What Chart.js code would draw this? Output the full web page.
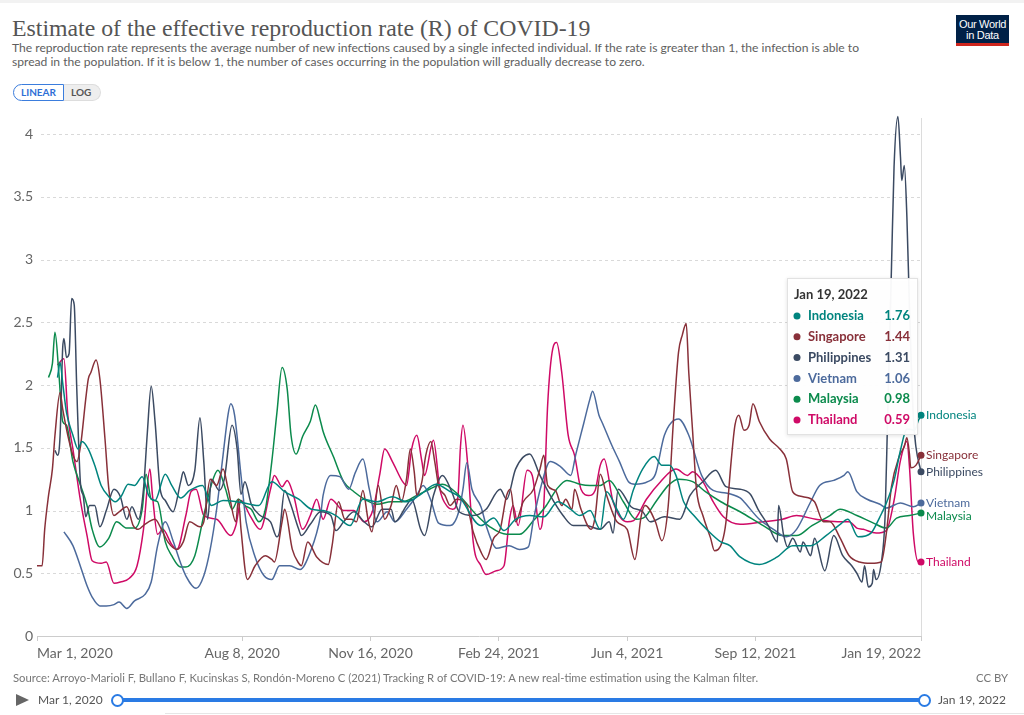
<!DOCTYPE html>
<html>
<head>
<meta charset="utf-8">
<script src="https://cdn.jsdelivr.net/npm/chart.js@4.4.0/dist/chart.umd.min.js"></script>
<style>
html,body{margin:0;padding:0;background:#fff;}
body{width:1024px;height:715px;position:relative;overflow:hidden;font-family:Lato,"Noto Sans",sans-serif;}
#topline{position:absolute;left:0;top:0;width:1024px;height:3px;background:#f2f2f2;}
#title{position:absolute;left:12px;top:13px;font-family:"Liberation Serif","DejaVu Serif",serif;font-size:23.8px;line-height:30px;color:#555;white-space:nowrap;}
#subtitle{position:absolute;left:12px;top:41px;font-size:12.1px;line-height:14px;color:#5e5e5e;white-space:nowrap;}
#toggle{position:absolute;left:13px;top:84px;height:17px;display:flex;font-size:10px;font-weight:bold;}
#toggle .lin{border:1px solid #3b7ddd;border-radius:9px 0 0 9px;color:#2f6fd6;padding:0 7px;line-height:15px;background:#fff;}
#toggle .log{border:1px solid #ddd;border-left:none;border-radius:0 9px 9px 0;color:#555;padding:0 9px 0 7px;line-height:15px;background:#eee;}
#logo{position:absolute;left:956px;top:15px;width:53px;height:31px;background:#002147;color:#fff;font-family:"Liberation Sans",Arial,sans-serif;font-size:11px;line-height:11px;text-align:center;letter-spacing:-0.3px;}
#logo .t{padding-top:4px;}
#logo .bar{position:absolute;left:0;bottom:0;width:53px;height:3px;background:#ce261e;}
#source{position:absolute;left:13px;top:671px;font-size:11.3px;line-height:14px;color:#777;white-space:nowrap;}
#ccby{position:absolute;right:16px;top:671px;font-size:11.3px;line-height:14px;color:#777;}
#play{position:absolute;left:16px;top:694px;width:0;height:0;border-left:13px solid #666;border-top:6.5px solid transparent;border-bottom:6.5px solid transparent;}
#tl1{position:absolute;left:38px;top:693px;font-size:12px;line-height:14px;color:#555;}
#tl2{position:absolute;right:18px;top:693px;font-size:12px;line-height:14px;color:#555;}
#track{position:absolute;left:117px;top:698px;width:808px;height:4px;background:#2a7be4;border-radius:2px;}
.knob{position:absolute;top:694px;width:9px;height:9px;border:2px solid #2a7be4;border-radius:50%;background:#fff;}
#bottomline{position:absolute;left:165px;top:713px;width:859px;height:1px;background:#e6e6e6;}
canvas{position:absolute;left:0;top:0;}
</style>
</head>
<body>
<div id="topline"></div>
<div id="title">Estimate of the effective reproduction rate (R) of COVID-19</div>
<div id="subtitle">The reproduction rate represents the average number of new infections caused by a single infected individual. If the rate is greater than 1, the infection is able to<br>spread in the population. If it is below 1, the number of cases occurring in the population will gradually decrease to zero.</div>
<div id="toggle"><div class="lin">LINEAR</div><div class="log">LOG</div></div>
<div id="logo"><div class="t">Our World<br>in Data</div><div class="bar"></div></div>
<canvas id="c" width="1024" height="715"></canvas>
<div id="source">Source: Arroyo-Marioli F, Bullano F, Kucinskas S, Rondón-Moreno C (2021) Tracking R of COVID-19: A new real-time estimation using the Kalman filter.</div>
<div id="ccby">CC BY</div>
<div id="play"></div>
<div id="tl1">Mar 1, 2020</div>
<div id="track"></div>
<div class="knob" style="left:111px"></div>
<div class="knob" style="left:918px"></div>
<div id="tl2">Jan 19, 2022</div>
<div id="bottomline"></div>
<script>
// Days since Mar 1, 2020 -> estimated R
const tickDays = [0, 160, 260, 360, 460, 560, 689];
const tickLabels = ['Mar 1, 2020', 'Aug 8, 2020', 'Nov 16, 2020', 'Feb 24, 2021', 'Jun 4, 2021', 'Sep 12, 2021', 'Jan 19, 2022'];
const yTicks = [0, 0.5, 1, 1.5, 2, 2.5, 3, 3.5, 4];
const hoverDay = 689;
const hoverLabel = 'Jan 19, 2022';

const indonesia = [[16,2.06],[18,2.18],[20,2.02],[23,1.78],[28,1.60],[32,1.49],[35,1.55],[40,1.49],[45,1.36],[50,1.20],[56,1.11],[61,1.07],[66,1.12],[71,1.21],[76,1.20],[82,1.27],[87,1.12],[92,1.08],[100,1.29],[105,1.20],[112,1.10],[119,1.16],[129,1.20],[136,1.04],[145,1.08],[156,1.07],[166,1.05],[173,1.04],[183,1.23],[193,1.15],[204,1.09],[214,1.01],[223,1.00],[233,0.96],[244,0.88],[254,1.09],[265,1.07],[277,1.11],[288,1.07],[298,1.12],[311,1.21],[322,1.15],[329,1.11],[346,0.88],[356,0.94],[364,0.84],[373,0.93],[384,0.96],[395,0.95],[406,1.07],[416,1.01],[423,0.96],[431,1.00],[439,0.85],[444,1.15],[452,1.01],[457,0.93],[465,1.17],[472,1.33],[481,1.43],[487,1.36],[493,1.36],[498,1.28],[504,1.07],[512,0.96],[522,0.85],[533,0.75],[540,0.72],[548,0.63],[563,0.57],[577,0.63],[589,0.72],[603,0.72],[615,0.80],[626,0.89],[632,0.93],[640,0.79],[650,0.82],[657,0.95],[662,1.06],[668,1.24],[673,1.48],[678,1.65],[684,1.64],[687,1.72],[689,1.76]];

const singapore = [[0,0.56],[4,0.56],[6,0.85],[9,1.12],[12,1.33],[14,1.60],[18,1.94],[20,1.81],[24,1.60],[28,1.44],[31,1.39],[34,1.52],[38,1.89],[40,2.05],[42,2.10],[46,2.20],[49,2.05],[53,1.57],[56,1.17],[60,0.96],[64,0.99],[70,1.03],[75,0.88],[79,0.85],[84,0.89],[92,0.93],[97,0.85],[102,0.75],[109,0.69],[114,0.75],[119,0.91],[127,0.87],[130,0.91],[135,1.25],[140,1.20],[145,1.33],[149,1.17],[155,0.91],[157,1.09],[159,0.85],[164,0.45],[170,0.56],[178,0.64],[183,0.61],[185,0.59],[191,0.91],[193,1.01],[199,0.69],[204,0.58],[206,0.56],[211,0.75],[218,0.63],[227,0.57],[230,0.72],[235,1.07],[240,0.93],[245,0.93],[249,0.91],[254,1.16],[258,0.93],[261,0.83],[266,1.20],[271,0.93],[276,1.04],[280,1.20],[284,1.07],[288,1.25],[291,1.49],[294,1.31],[296,1.12],[300,1.23],[303,1.44],[307,1.55],[310,1.39],[313,1.20],[318,1.12],[322,1.04],[327,1.09],[335,1.04],[340,0.83],[346,0.67],[350,0.61],[356,0.78],[361,0.85],[366,1.12],[369,1.17],[373,0.91],[379,1.07],[387,1.17],[392,1.33],[395,1.44],[398,1.20],[404,1.16],[409,1.04],[412,1.09],[417,1.01],[419,1.17],[424,1.01],[432,0.85],[435,0.95],[439,1.29],[444,1.12],[452,0.91],[460,0.85],[466,0.61],[471,0.96],[474,1.04],[482,0.91],[487,0.76],[492,1.04],[496,1.71],[500,2.26],[503,2.40],[506,2.49],[508,2.10],[511,1.63],[514,1.17],[519,0.96],[525,0.78],[528,0.68],[534,0.75],[537,0.91],[541,1.39],[544,1.68],[547,1.76],[551,1.64],[555,1.68],[558,1.85],[563,1.71],[571,1.57],[579,1.49],[584,1.41],[589,1.15],[597,1.11],[606,1.07],[613,0.91],[618,0.91],[626,0.78],[633,0.64],[641,0.59],[650,0.58],[658,0.59],[662,0.82],[666,1.19],[672,1.43],[676,1.51],[678,1.58],[680,1.45],[681,1.34],[685,1.36],[689,1.44]];

const philippines = [[14,1.48],[16,1.44],[18,1.60],[20,2.29],[21,2.37],[23,2.22],[25,2.25],[27,2.69],[29,2.64],[31,1.97],[34,1.20],[36,1.12],[38,0.95],[41,1.04],[45,1.04],[49,0.87],[54,1.00],[60,1.17],[65,1.11],[70,0.93],[74,1.03],[79,0.93],[83,1.17],[86,1.62],[89,1.99],[92,1.71],[96,1.17],[100,1.08],[106,0.99],[112,1.23],[114,1.31],[118,1.20],[123,1.32],[127,1.74],[130,1.39],[133,0.93],[136,1.25],[142,1.16],[146,1.25],[152,1.68],[156,1.49],[159,1.13],[162,1.23],[167,1.05],[174,0.96],[182,0.91],[187,0.79],[189,0.83],[193,1.16],[197,1.07],[204,0.85],[206,0.80],[213,0.89],[221,0.99],[229,0.96],[233,0.84],[239,0.91],[247,0.99],[255,0.91],[261,0.87],[269,1.01],[276,1.01],[279,0.91],[288,1.04],[292,1.09],[299,0.85],[302,0.80],[309,1.12],[316,1.28],[324,1.13],[329,0.99],[340,0.96],[350,1.01],[361,1.17],[366,1.09],[373,1.33],[384,1.45],[392,1.28],[400,1.12],[410,0.96],[418,0.88],[428,0.88],[439,0.85],[446,0.91],[449,0.82],[453,1.17],[463,1.03],[472,0.99],[478,0.91],[489,0.95],[501,0.93],[509,1.12],[519,1.23],[529,1.32],[537,1.19],[548,1.17],[556,1.13],[562,1.01],[570,0.88],[577,0.75],[578,1.04],[582,0.80],[585,0.71],[589,0.78],[595,0.67],[597,0.75],[603,0.64],[606,0.78],[614,0.52],[621,0.80],[628,0.64],[635,0.56],[639,0.50],[643,0.43],[645,0.56],[648,0.39],[651,0.42],[652,0.53],[654,0.45],[658,0.58],[661,0.95],[663,1.75],[666,2.94],[668,3.74],[671,4.14],[673,3.82],[674,3.63],[676,3.75],[678,3.34],[680,2.62],[683,1.75],[685,1.51],[689,1.31]];

const vietnam = [[21,0.83],[28,0.72],[34,0.55],[39,0.40],[43,0.31],[49,0.24],[54,0.24],[60,0.25],[64,0.27],[70,0.22],[76,0.28],[84,0.33],[89,0.43],[94,0.72],[100,0.91],[106,0.76],[112,0.58],[116,0.48],[124,0.38],[130,0.48],[135,0.69],[140,1.01],[145,1.44],[149,1.77],[151,1.85],[154,1.76],[159,1.28],[163,0.91],[170,0.63],[177,0.48],[183,0.45],[189,0.56],[197,0.56],[205,0.53],[213,0.67],[221,0.96],[223,1.12],[229,1.28],[236,1.27],[243,1.17],[248,1.30],[254,1.41],[259,1.17],[265,0.91],[273,0.99],[279,0.91],[288,1.01],[296,1.12],[301,1.20],[307,1.08],[313,0.90],[322,0.88],[329,1.00],[332,1.17],[335,1.38],[339,1.17],[346,1.03],[351,0.85],[358,0.70],[368,0.72],[376,0.69],[383,0.71],[387,0.93],[393,1.20],[400,1.39],[408,1.35],[416,1.28],[420,1.45],[426,1.69],[431,1.89],[433,1.95],[438,1.76],[441,1.69],[448,1.52],[454,1.39],[461,1.23],[466,1.21],[476,1.23],[482,1.29],[489,1.60],[500,1.73],[508,1.60],[518,1.28],[527,1.16],[537,1.14],[548,1.10],[551,1.07],[563,0.93],[574,0.85],[584,0.79],[592,0.85],[603,1.07],[610,1.20],[621,1.24],[629,1.28],[632,1.31],[639,1.15],[647,1.09],[657,1.05],[662,1.02],[673,1.06],[683,1.03],[689,1.06]];

const malaysia = [[9,2.06],[12,2.17],[14,2.42],[17,2.10],[20,1.71],[23,1.68],[28,1.39],[34,1.20],[39,1.04],[43,0.85],[49,0.71],[56,0.78],[62,0.91],[70,0.86],[76,0.86],[82,1.01],[85,1.29],[89,1.09],[94,1.07],[100,0.75],[105,0.64],[112,0.55],[116,0.55],[123,0.64],[130,0.96],[136,1.21],[141,1.32],[147,1.17],[152,1.01],[157,1.09],[162,1.04],[167,1.01],[173,0.91],[178,1.01],[183,1.39],[187,1.78],[191,2.14],[195,1.97],[198,1.60],[202,1.45],[207,1.59],[213,1.71],[217,1.84],[221,1.71],[223,1.63],[231,1.43],[239,1.23],[247,1.15],[257,1.08],[265,1.05],[276,1.07],[285,1.07],[296,1.12],[306,1.17],[316,1.21],[329,1.12],[343,0.96],[353,0.87],[366,0.81],[376,0.81],[387,0.92],[397,1.04],[405,1.17],[413,1.24],[423,1.21],[431,1.20],[439,1.20],[446,1.24],[457,1.07],[467,0.93],[474,0.95],[483,1.08],[493,1.21],[500,1.25],[511,1.23],[521,1.15],[533,1.07],[548,0.99],[566,0.88],[581,0.80],[592,0.80],[604,0.88],[618,0.96],[626,1.01],[639,0.96],[652,0.90],[662,0.86],[670,0.94],[680,0.96],[689,0.98]];

const thailand = [[16,2.16],[21,2.21],[24,1.76],[28,1.49],[34,1.07],[39,0.80],[43,0.60],[50,0.58],[54,0.59],[60,0.42],[65,0.43],[72,0.46],[78,0.56],[83,0.85],[88,1.33],[90,1.12],[94,0.81],[98,0.85],[105,0.73],[109,0.69],[116,0.96],[120,1.15],[124,1.17],[130,0.96],[140,0.93],[151,0.80],[155,0.88],[159,1.08],[166,0.96],[174,0.85],[182,1.17],[185,1.28],[191,1.19],[195,1.24],[200,1.12],[207,0.85],[213,0.96],[218,1.09],[223,0.93],[229,1.09],[239,1.00],[247,1.00],[255,0.91],[262,1.01],[267,1.28],[271,1.49],[277,1.39],[285,1.23],[288,1.20],[292,1.49],[296,1.60],[300,1.39],[302,1.28],[309,1.56],[314,1.17],[320,1.03],[324,1.01],[328,1.10],[330,1.50],[332,1.68],[336,1.33],[340,0.75],[346,0.56],[350,0.49],[358,0.52],[364,0.56],[368,0.91],[371,1.04],[375,0.88],[382,1.32],[386,1.28],[392,0.85],[395,1.04],[398,1.84],[402,2.29],[405,2.34],[409,2.10],[414,1.60],[419,1.44],[424,1.17],[430,1.12],[435,1.16],[439,1.36],[442,1.41],[449,1.07],[460,0.91],[465,0.92],[475,1.09],[486,1.23],[498,1.33],[507,1.28],[511,1.31],[519,1.23],[527,1.07],[535,0.95],[548,0.89],[566,0.91],[581,0.93],[592,0.96],[607,0.93],[624,0.91],[633,0.91],[639,0.86],[644,0.85],[654,0.82],[662,0.84],[668,1.08],[673,1.40],[678,1.55],[680,1.35],[683,0.82],[687,0.59],[689,0.59]];

const seriesNames = ['Indonesia', 'Singapore', 'Philippines', 'Vietnam', 'Malaysia', 'Thailand'];
const seriesData = [indonesia, singapore, philippines, vietnam, malaysia, thailand];
const seriesColors = ['#00847E', '#883039', '#3b4a62', '#4C6A9C', '#0b8a4c', '#CF0A66'];

const overlay = {
  id: 'overlay',
  beforeDatasetsDraw(chart) {
    const {ctx, chartArea, scales} = chart;
    ctx.save();
    // dashed horizontal grid lines at the y ticks
    ctx.strokeStyle = '#d9d9d9';
    ctx.lineWidth = 1;
    ctx.setLineDash([3, 3]);
    yTicks.forEach(v => {
      if (v === 0) return;
      const py = Math.round(scales.y.getPixelForValue(v)) + 0.5;
      ctx.beginPath();
      ctx.moveTo(chartArea.left + 4, py);
      ctx.lineTo(chartArea.right, py);
      ctx.stroke();
    });
    ctx.setLineDash([]);
    // hover line
    const px = Math.round(scales.x.getPixelForValue(hoverDay)) + 0.5;
    ctx.strokeStyle = '#dcdcdc';
    ctx.beginPath();
    ctx.moveTo(px, chartArea.top + 9);
    ctx.lineTo(px, chartArea.bottom);
    ctx.stroke();
    ctx.restore();
  },
  afterDatasetsDraw(chart) {
    const {ctx, scales} = chart;
    const xs = scales.x, ys = scales.y;
    const items = seriesData.map((d, i) => {
      const last = d[d.length - 1];
      return {name: seriesNames[i], color: seriesColors[i], value: last[1], x: xs.getPixelForValue(last[0]), y: ys.getPixelForValue(last[1])};
    });
    ctx.save();
    items.forEach(it => {
      ctx.fillStyle = it.color;
      ctx.beginPath();
      ctx.arc(it.x, it.y, 3.5, 0, Math.PI * 2);
      ctx.fill();
    });
    const sorted = items.slice().sort((a, b) => a.y - b.y);
    let prev = -Infinity;
    ctx.font = '12px Lato, sans-serif';
    ctx.textBaseline = 'middle';
    ctx.textAlign = 'left';
    sorted.forEach(it => {
      const ly = Math.max(it.y, prev + 13);
      prev = ly;
      ctx.fillStyle = it.color;
      ctx.fillText(it.name, it.x + 5, ly);
    });
    // tooltip box
    const bx = 787, by = 278, bw = 131, bh = 157;
    ctx.shadowColor = 'rgba(0,0,0,0.12)';
    ctx.shadowBlur = 4;
    ctx.shadowOffsetY = 1;
    ctx.fillStyle = 'rgba(255,255,255,0.96)';
    ctx.fillRect(bx, by, bw, bh);
    ctx.shadowColor = 'transparent';
    ctx.strokeStyle = '#e2e2e2';
    ctx.lineWidth = 1;
    ctx.strokeRect(bx + 0.5, by + 0.5, bw - 1, bh - 1);
    ctx.fillStyle = '#333';
    ctx.font = 'bold 13px Lato, sans-serif';
    ctx.textBaseline = 'alphabetic';
    ctx.fillText(hoverLabel, bx + 7, by + 21);
    const byValue = items.slice().sort((a, b) => b.value - a.value);
    byValue.forEach((it, i) => {
      const ry = by + 38 + i * 20.8;
      ctx.fillStyle = it.color;
      ctx.beginPath();
      ctx.arc(bx + 10, ry, 3.5, 0, Math.PI * 2);
      ctx.fill();
      ctx.textBaseline = 'middle';
      ctx.textAlign = 'left';
      ctx.fillText(it.name, bx + 21, ry);
      ctx.textAlign = 'right';
      ctx.fillText(it.value.toFixed(2), bx + 123, ry);
    });
    ctx.restore();
  }
};

new Chart(document.getElementById('c'), {
  type: 'line',
  data: {
    datasets: seriesData.map((d, i) => ({
      label: seriesNames[i],
      data: d.map(p => ({x: p[0], y: p[1]})),
      borderColor: seriesColors[i],
      borderWidth: 1.5,
      pointRadius: 0,
      cubicInterpolationMode: 'monotone',
      fill: false
    }))
  },
  options: {
    responsive: false,
    animation: false,
    layout: {padding: {left: 0, right: 103, top: 109, bottom: 49}},
    plugins: {legend: {display: false}, tooltip: {enabled: false}},
    scales: {
      x: {
        type: 'linear',
        min: 0,
        max: 689,
        afterBuildTicks: axis => { axis.ticks = tickDays.map(v => ({value: v})); },
        afterFit: s => { s.height = 30; },
        ticks: {
          autoSkip: false,
          maxRotation: 0,
          align: 'inner',
          padding: 4,
          color: '#666',
          font: {family: 'Lato', size: 14},
          callback: v => tickLabels[tickDays.indexOf(v)] || ''
        },
        grid: {drawOnChartArea: false, drawTicks: true, tickLength: 5, color: '#cccccc'},
        border: {display: true, color: '#cccccc'}
      },
      y: {
        min: 0,
        max: 4.2,
        afterBuildTicks: axis => { axis.ticks = yTicks.map(v => ({value: v})); },
        afterFit: s => { s.width = 37; },
        ticks: {
          padding: 4,
          color: '#666',
          font: {family: 'Lato', size: 14},
          callback: v => String(v)
        },
        grid: {display: false, drawTicks: false},
        border: {display: false}
      }
    }
  },
  plugins: [overlay]
});
</script>
</body>
</html>
